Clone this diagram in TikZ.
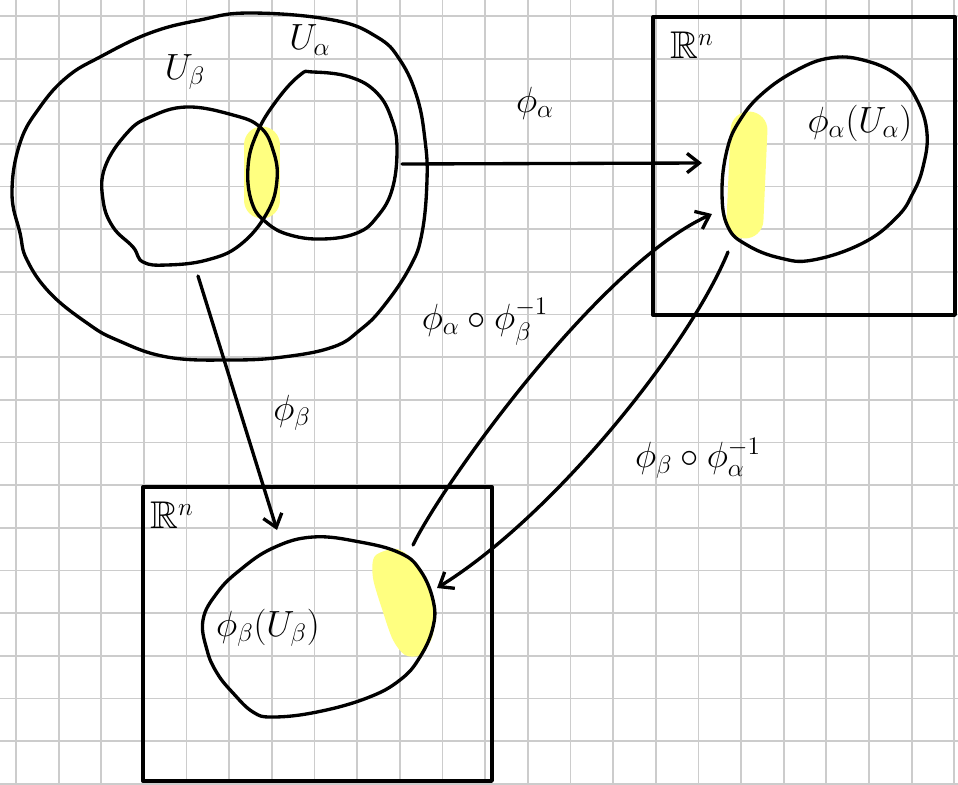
\documentclass[tikz,border=0pt]{standalone}
\usepackage{amsmath,amssymb}
\usetikzlibrary{arrows.meta}
\definecolor{hl}{RGB}{255,255,128}

\begin{document}
\begin{tikzpicture}[x=0.02cm, y=-0.02cm,
  gridline/.style={draw=black!20, line width=1pt},
  pen/.style={line width=1.9pt, line join=round, line cap=round},
  arr/.style={pen, -{Straight Barb[length=7pt, width=11pt]}},
  marker/.style={draw=hl, line width=21pt, line cap=round},
  lbl/.style={font=\fontsize{22}{26}\selectfont, inner sep=0pt}]
\useasboundingbox[fill=white] (0,0) rectangle (958,785);
% squared paper
\foreach \i in {0,...,22}
  \draw[gridline] ({16+42.65*\i},0) -- ({16+42.65*\i},785);
\foreach \j in {0,...,18}
  \draw[gridline] (0,{16+42.65*\j}) -- (958,{16+42.65*\j});
% highlighted overlaps
\draw[marker] (262,145) -- (262,200);
\draw[marker] (749,130) -- (745,220);
\fill[hl] plot[smooth cycle] coordinates {(397,549) (415,562) (429,585) (435,612)
  (432,638) (420,655) (405,655) (393,640) (383,612) (373,578) (375,556)};
% manifold and charts
\draw[pen] plot[smooth cycle, tension=0.7] coordinates {(250,13) (333,20) (377,37)
  (400,60) (417,97) (425,140) (427,180) (422,233) (410,267) (383,307) (360,330)
  (333,347) (283,357) (230,360) (167,357) (117,340) (87,323) (50,293) (27,260)
  (20,233) (12,193) (20,143) (40,107) (67,77) (100,57) (150,33) (200,20)};
\draw[pen] plot[smooth cycle, tension=0.7] coordinates {(187,107) (233,115) (260,127)
  (273,150) (277,180) (267,213) (240,245) (207,260) (167,265) (143,262) (133,247)
  (113,227) (103,200) (105,167) (127,133) (150,117)};
\draw[pen] plot[smooth cycle, tension=0.7] coordinates {(313,72) (350,77) (377,93)
  (392,120) (397,150) (392,190) (377,217) (357,233) (323,239) (290,235) (267,223)
  (252,203) (248,167) (257,133) (277,100) (300,75)};
\node[lbl] (ub) at (185,72) {$U_\beta$};
\node[lbl] (ua) at (310,40) {$U_\alpha$};
% target spaces
\draw[pen] (653,17) rectangle (955,315);
\draw[pen] (143,487) rectangle (492,781);
\node[lbl] (rn1) at (692,45) {$\mathbb{R}^n$};
\node[lbl] (rn2) at (172,515) {$\mathbb{R}^n$};
\draw[pen] plot[smooth cycle, tension=0.7] coordinates {(830,58) (863,60) (897,75)
  (917,100) (927,133) (923,167) (913,193) (897,217) (863,243) (813,260) (780,258)
  (747,245) (728,227) (722,193) (727,150) (740,120) (763,93) (797,70)};
\draw[pen] plot[smooth cycle, tension=0.7] coordinates {(313,537) (360,542) (400,553)
  (420,570) (433,600) (433,627) (420,657) (400,680) (367,698) (317,712) (273,717)
  (253,712) (233,693) (217,673) (207,650) (203,620) (217,593) (240,570) (273,548)};
\node[lbl] (pa) at (860,123) {$\phi_\alpha(U_\alpha)$};
\node[lbl] (pb) at (268,628) {$\phi_\beta(U_\beta)$};
% maps
\coordinate (a0) at (402,164);
\coordinate (a1) at (702,163);
\coordinate (b0) at (198,276);
\coordinate (b1) at (277,530);
\coordinate (c0) at (413,545);
\coordinate (c1) at (712,214);
\coordinate (d0) at (728,252);
\coordinate (d1) at (437,588);
\draw[arr] (a0) -- (a1);
\draw[arr] (b0) -- (b1);
\draw[arr] (c0) .. controls (445,480) and (600,265) .. (c1);
\draw[arr] (d0) .. controls (690,345) and (555,515) .. (d1);
\node[lbl] (la) at (535,103) {$\phi_\alpha$};
\node[lbl] (lb) at (292,413) {$\phi_\beta$};
\node[lbl] (lab) at (485,322) {$\phi_\alpha\circ\phi_\beta^{-1}$};
\node[lbl] (lba) at (698,458) {$\phi_\beta\circ\phi_\alpha^{-1}$};
\end{tikzpicture}
\end{document}
